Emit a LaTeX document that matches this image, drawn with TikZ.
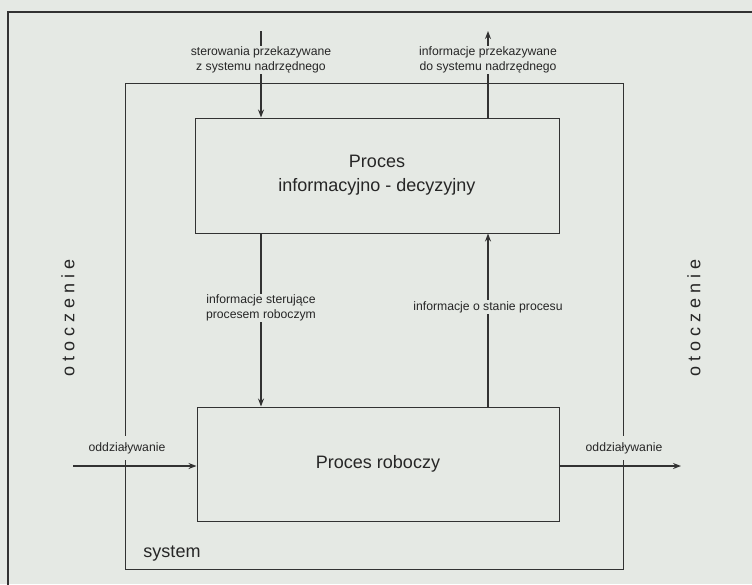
\documentclass[tikz,border=0pt]{standalone}
\usepackage{fontspec}
\setmainfont{Liberation Sans}
\usetikzlibrary{arrows.meta}
\definecolor{paper}{RGB}{229,233,228}
\definecolor{ink}{RGB}{50,50,50}
\definecolor{type}{RGB}{38,38,38}

\begin{document}
\begin{tikzpicture}[x=1pt,y=-1pt,
  frame/.style={draw=ink, line width=2.6pt},
  sysbox/.style={draw=ink, line width=0.9pt},
  procbox/.style={draw=ink, line width=1pt, align=center,
    font=\fontsize{18}{24}\selectfont, text=type},
  flow/.style={draw=ink, line width=2.2pt, -{Stealth[length=8pt,width=6pt]}},
  lbl/.style={font=\fontsize{12.2}{14.5}\selectfont, text=type, fill=paper,
    inner sep=1.5pt, align=center},
  big/.style={font=\fontsize{18}{22}\selectfont, text=type}]

% page background and size
\fill[paper] (0,0) rectangle (752,584);
\useasboundingbox (0,0) rectangle (752,584);

% environment frame
\draw[frame] (8,590) -- (8,12) -- (760,12);

% system boundary
\node[sysbox, minimum width=498pt, minimum height=486pt, inner sep=0pt]
  (sys) at (374,326) {};

% the two processes
\node[procbox, minimum width=364pt, minimum height=115pt, inner sep=0pt]
  (ip) at (377,175.5) {Proces\\informacyjno - decyzyjny};
\node[procbox, minimum width=362pt, minimum height=114pt, inner sep=0pt]
  (rp) at (378,464) {Proces roboczy};

% ends of the external flows
\coordinate (inTop) at (261,31);
\coordinate (outTop) at (488,31);
\coordinate (envL) at (73,466);
\coordinate (envR) at (681,466);

% links with the superior system
\draw[flow] (inTop) -- (inTop |- ip.north);
\node[lbl] (lin) at (261,60) {sterowania przekazywane\\z systemu nadrzędnego};
\draw[flow] (outTop |- ip.north) -- (outTop);
\node[lbl] (lout) at (488,60) {informacje przekazywane\\do systemu nadrzędnego};

% links between the two processes
\draw[flow] (ip.south -| inTop) -- (rp.north -| inTop);
\node[lbl] (lctrl) at (261,308) {informacje sterujące\\procesem roboczym};
\draw[flow] (rp.north -| outTop) -- (ip.south -| outTop);
\node[lbl] (lstate) at (488,307) {informacje o stanie procesu};

% interaction with the environment (labels hide the system boundary)
\node[lbl, inner ysep=6pt] (lenvL) at (127,448) {oddziaływanie};
\node[lbl, inner ysep=6pt] (lenvR) at (624,448) {oddziaływanie};
\draw[flow] (envL) -- (envL -| rp.west);
\draw[flow] (envR -| rp.east) -- (envR);

% captions
\node[big, rotate=90] (envTxtL) at (68,318) {o t o c z e n i e};
\node[big, rotate=90] (envTxtR) at (694,318) {o t o c z e n i e};
\node[big] (sysTxt) at (172,554) {system};
\end{tikzpicture}
\end{document}
